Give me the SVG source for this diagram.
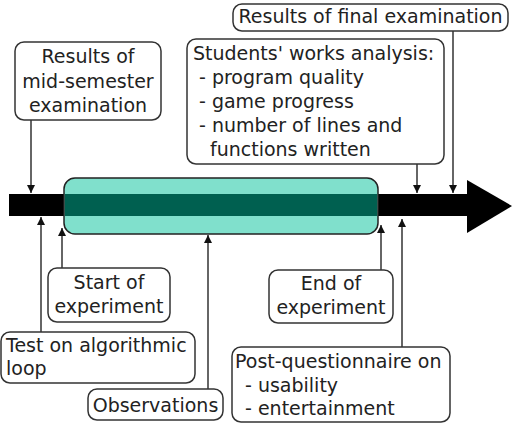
<svg xmlns="http://www.w3.org/2000/svg" width="516" height="424" viewBox="0 0 516 424">
<defs>
<style>
.box{fill:#fff;stroke:#333;stroke-width:1.5}
.t{font-family:"DejaVu Sans",sans-serif;font-size:19px;fill:#222}
.c{text-anchor:middle}
.ln{stroke:#333;stroke-width:1.5;fill:none}
</style>
<marker id="ah" viewBox="0 0 10 10" refX="10" refY="5" markerWidth="5.5" markerHeight="5.5" markerUnits="strokeWidth" orient="auto">
<path d="M0,0 L10,5 L0,10 z" fill="#111"/>
</marker>
</defs>
<rect width="516" height="424" fill="#fff"/>
<g id="timeline">
<rect x="9" y="194" width="460" height="22" fill="#000"/>
<polygon points="467,180 512,206 467,233" fill="#000"/>
<rect x="64" y="178" width="314" height="56" rx="11" fill="#80e0cc" stroke="#222" stroke-width="1.5"/>
<rect x="65" y="194" width="312" height="22" fill="#006050"/>
</g>
<g id="connectors">
<line class="ln" x1="31" y1="120" x2="31" y2="193" marker-end="url(#ah)"/>
<line class="ln" x1="417" y1="164" x2="417" y2="193" marker-end="url(#ah)"/>
<line class="ln" x1="453" y1="31" x2="453" y2="193" marker-end="url(#ah)"/>
<line class="ln" x1="41" y1="332" x2="41" y2="217" marker-end="url(#ah)"/>
<line class="ln" x1="62" y1="268" x2="62" y2="228" marker-end="url(#ah)"/>
<line class="ln" x1="208" y1="389" x2="208" y2="235" marker-end="url(#ah)"/>
<line class="ln" x1="381" y1="270" x2="381" y2="225" marker-end="url(#ah)"/>
<line class="ln" x1="402" y1="347" x2="402" y2="219" marker-end="url(#ah)"/>
</g>
<g id="mid">
<rect class="box" x="15" y="42" width="146" height="78" rx="9"/>
<text class="t c" x="88" y="63">Results of</text>
<text class="t c" x="88" y="88">mid-semester</text>
<text class="t c" x="88" y="112">examination</text>
</g>
<g id="final">
<rect class="box" x="233" y="4" width="275" height="27" rx="9"/>
<text class="t c" x="370.5" y="23">Results of final examination</text>
</g>
<g id="works">
<rect class="box" x="187" y="39" width="257" height="125" rx="9"/>
<text class="t" x="193" y="60">Students' works analysis:</text>
<text class="t" x="199" y="84">- program quality</text>
<text class="t" x="199" y="108">- game progress</text>
<text class="t" x="199" y="132">- number of lines and</text>
<text class="t" x="210" y="156">functions written</text>
</g>
<g id="start">
<rect class="box" x="48" y="268" width="122" height="54" rx="9"/>
<text class="t c" x="109" y="289">Start of</text>
<text class="t c" x="109" y="313">experiment</text>
</g>
<g id="test">
<rect class="box" x="1" y="332" width="194" height="51" rx="9"/>
<text class="t" x="6" y="352">Test on algorithmic</text>
<text class="t" x="6" y="375">loop</text>
</g>
<g id="obs">
<rect class="box" x="88" y="389" width="135" height="31" rx="9"/>
<text class="t c" x="155.5" y="412">Observations</text>
</g>
<g id="end">
<rect class="box" x="269" y="270" width="124" height="53" rx="9"/>
<text class="t c" x="331" y="290">End of</text>
<text class="t c" x="331" y="314">experiment</text>
</g>
<g id="post">
<rect class="box" x="232" y="347" width="218" height="75" rx="9"/>
<text class="t" x="235" y="368">Post-questionnaire on</text>
<text class="t" x="245" y="392">- usability</text>
<text class="t" x="245" y="415">- entertainment</text>
</g>
</svg>
